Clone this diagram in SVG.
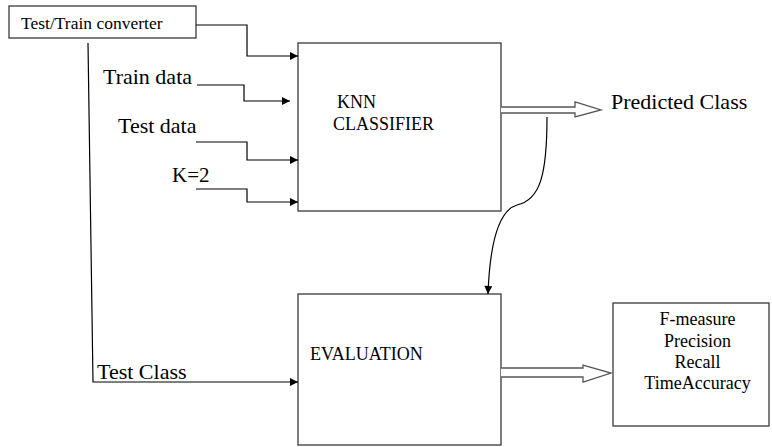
<svg xmlns="http://www.w3.org/2000/svg" width="772" height="447" viewBox="0 0 772 447">
  <style>
    .box { fill: #fff; stroke: #3a3a3a; stroke-width: 1.3; }
    .conn { fill: none; stroke: #000; stroke-width: 1.2; }
    .hollow { fill: #fff; stroke: #555; stroke-width: 1.3; }
    text { font-family: "Liberation Serif", "Times New Roman", serif; fill: #000; }
  </style>
  <defs>
    <marker id="ah" viewBox="0 0 10 10" refX="10" refY="5" markerWidth="9" markerHeight="8" markerUnits="userSpaceOnUse" orient="auto">
      <path d="M0,0 L10,5 L0,10 z" fill="#000"/>
    </marker>
  </defs>
  <rect width="772" height="447" fill="#fff"/>

  <g id="converter">
    <rect class="box" x="9" y="6" width="187" height="32"/>
    <text x="21" y="29" font-size="17.5">Test/Train converter</text>
  </g>

  <g id="knn">
    <rect class="box" x="298" y="43" width="203" height="168"/>
    <text x="337" y="108" font-size="18">KNN</text>
    <text x="333" y="130" font-size="18">CLASSIFIER</text>
  </g>

  <g id="evaluation">
    <rect class="box" x="298" y="294" width="203" height="151"/>
    <text x="310" y="360" font-size="18">EVALUATION</text>
  </g>

  <g id="results">
    <rect class="box" x="613" y="303" width="156" height="123"/>
    <text x="697.5" y="325" font-size="18" text-anchor="middle">F-measure</text>
    <text x="697.5" y="347" font-size="18" text-anchor="middle">Precision</text>
    <text x="697.5" y="368" font-size="18" text-anchor="middle">Recall</text>
    <text x="697.5" y="389" font-size="18" text-anchor="middle">TimeAccuracy</text>
  </g>

  <g id="labels">
    <text x="103" y="84" font-size="22">Train data</text>
    <text x="118" y="133" font-size="22">Test data</text>
    <text x="172" y="182" font-size="21">K=2</text>
    <text x="97" y="379" font-size="22">Test Class</text>
    <text x="611" y="109" font-size="22">Predicted Class</text>
  </g>

  <g id="connectors">
    <path class="conn" d="M196,25 H247 V56 H298" marker-end="url(#ah)"/>
    <path class="conn" d="M197,85 H244 V101 H290" marker-end="url(#ah)"/>
    <path class="conn" d="M196,142 H247 V160 H298" marker-end="url(#ah)"/>
    <path class="conn" d="M196,189 H247 V202 H298" marker-end="url(#ah)"/>
    <path class="conn" d="M88,43 L93,382 H298" marker-end="url(#ah)"/>
    <path class="conn" d="M547,117 C547,175 540,200 517,205 C500,210 490,240 488,294" marker-end="url(#ah)"/>
    <path class="hollow" d="M501,107 H575 V102 L601,110 L575,117 V113 H501"/>
    <path class="hollow" d="M501,368 H583 V365 L611,373 L583,382 V377 H501"/>
  </g>
</svg>
